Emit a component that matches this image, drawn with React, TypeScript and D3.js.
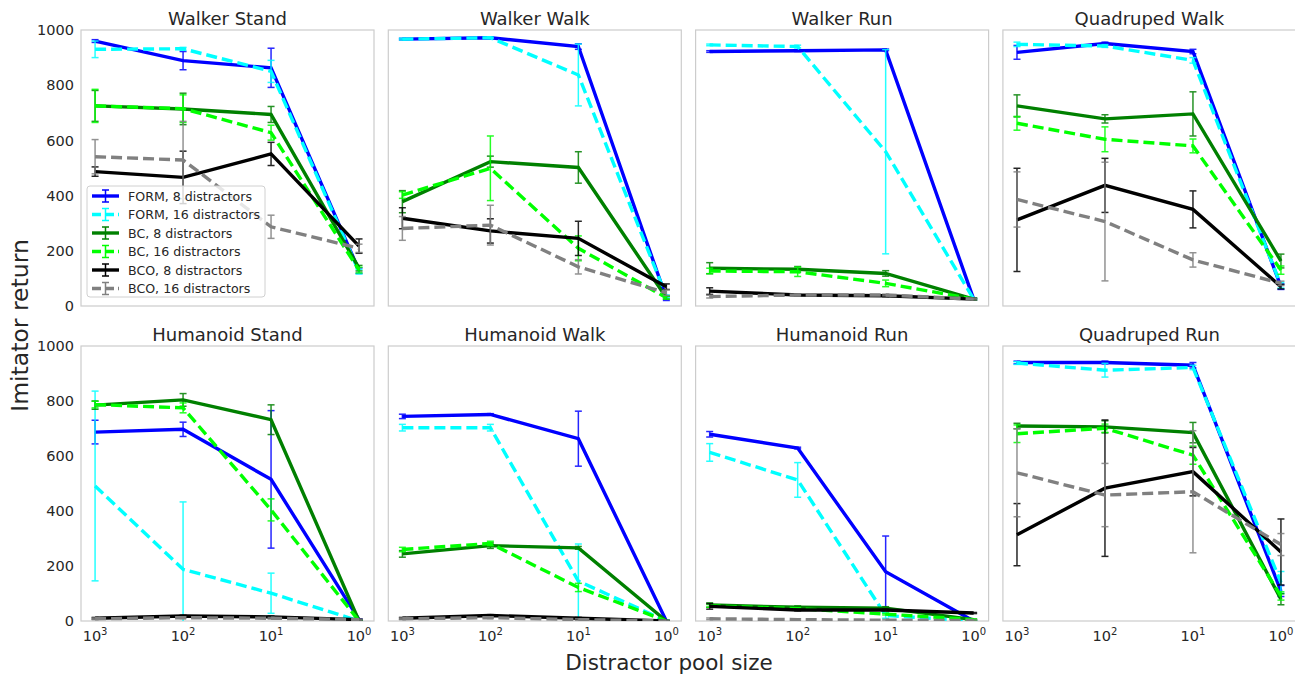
import React, { useEffect, useRef } from "react";
import * as d3 from "d3";

const WIDTH = 1295;
const HEIGHT = 675;

const TASKS = [
  "Walker Stand", "Walker Walk", "Walker Run", "Quadruped Walk",
  "Humanoid Stand", "Humanoid Walk", "Humanoid Run", "Quadruped Run",
];
const POOL_SIZES = [1000, 100, 10, 1];
const X_TICK_EXPONENTS = [3, 2, 1, 0];
const Y_TICKS = [0, 200, 400, 600, 800, 1000];

const SERIES_LABELS = [
  "FORM, 8 distractors", "FORM, 16 distractors",
  "BC, 8 distractors", "BC, 16 distractors",
  "BCO, 8 distractors", "BCO, 16 distractors",
];

// one row per task (same order as TASKS), one value per pool size
const FORM8_MEAN = [
  [960, 889, 863, 128], [967, 972, 940, 28], [922, 925, 928, 25], [919, 951, 922, 70],
  [687, 697, 515, 5], [744, 751, 663, 0], [679, 629, 179, 0], [940, 940, 930, 109],
];
const FORM8_ERR = [
  [5, 33, 71, 10], [3, 3, 10, 8], [3, 3, 3, 3], [25, 5, 8, 10],
  [43, 26, 250, 3], [8, 3, 100, 2], [10, 3, 130, 2], [5, 5, 10, 20],
];
const FORM16_MEAN = [
  [930, 932, 850, 124], [967, 972, 837, 35], [946, 940, 559, 25], [948, 942, 890, 75],
  [491, 188, 101, 0], [703, 703, 145, 0], [613, 513, 20, 0], [938, 912, 922, 140],
];
const FORM16_ERR = [
  [30, 5, 40, 8], [3, 3, 112, 5], [3, 5, 370, 3], [8, 5, 10, 10],
  [345, 245, 73, 3], [12, 12, 135, 2], [32, 63, 10, 2], [5, 25, 8, 40],
];
const BC8_MEAN = [
  [725, 714, 694, 137], [378, 523, 502, 30], [137, 133, 118, 25], [725, 678, 696, 163],
  [785, 804, 732, 0], [244, 274, 266, 0], [58, 50, 47, 5], [709, 706, 685, 79],
];
const BC8_ERR = [
  [56, 57, 29, 10], [40, 20, 57, 5], [20, 10, 10, 3], [40, 15, 80, 25],
  [15, 23, 54, 3], [12, 10, 5, 2], [8, 5, 5, 2], [10, 22, 37, 20],
];
const BC16_MEAN = [
  [725, 715, 628, 130], [402, 499, 209, 30], [127, 124, 82, 25], [662, 604, 580, 130],
  [787, 775, 404, 0], [260, 282, 122, 0], [55, 45, 25, 5], [681, 701, 603, 91],
];
const BC16_ERR = [
  [60, 50, 27, 10], [12, 117, 45, 5], [10, 17, 12, 3], [25, 45, 25, 15],
  [12, 18, 40, 3], [8, 8, 15, 2], [5, 3, 3, 2], [32, 15, 33, 15],
];
const BCO8_MEAN = [
  [487, 466, 551, 217], [318, 272, 245, 70], [54, 40, 37, 25], [312, 437, 350, 70],
  [10, 18, 15, 5], [10, 20, 10, 0], [53, 40, 40, 29], [314, 483, 543, 251],
];
const BCO8_ERR = [
  [17, 95, 42, 26], [38, 44, 62, 10], [12, 3, 3, 3], [187, 98, 67, 8],
  [3, 3, 3, 2], [3, 3, 3, 2], [10, 3, 3, 2], [113, 248, 88, 120],
];
const BCO16_MEAN = [
  [541, 529, 287, 209], [281, 293, 142, 48], [34, 40, 40, 25], [386, 306, 167, 82],
  [8, 12, 10, 5], [8, 12, 5, 0], [8, 5, 3, 2], [539, 458, 470, 278],
];
const BCO16_ERR = [
  [62, 140, 42, 15], [43, 72, 26, 10], [5, 3, 3, 3], [100, 215, 26, 8],
  [3, 3, 3, 2], [3, 3, 3, 2], [3, 3, 3, 2], [160, 115, 222, 40],
];

const MEANS = [FORM8_MEAN, FORM16_MEAN, BC8_MEAN, BC16_MEAN, BCO8_MEAN, BCO16_MEAN];
const ERRS = [FORM8_ERR, FORM16_ERR, BC8_ERR, BC16_ERR, BCO8_ERR, BCO16_ERR];

const SERIES_STYLE = [
  { color: "#0000ff", dashed: false },
  { color: "#00ffff", dashed: true },
  { color: "#008000", dashed: false },
  { color: "#00ff00", dashed: true },
  { color: "#000000", dashed: false },
  { color: "#808080", dashed: true },
];

const FONT = "'DejaVu Sans', sans-serif";
const TEXT_COLOR = "#262626";

const PANEL_LEFT = 81;
const PANEL_STRIDE = 307.3;
const PANEL_W = 293;
const ROW_TOP = [30, 346];
const ROW_H = [276, 275];

export default function App() {
  const svgRef = useRef<SVGSVGElement>(null);

  useEffect(() => {
    const svg = d3.select(svgRef.current);
    svg.selectAll("*").remove();

    const x = d3
      .scaleLog()
      .domain([Math.pow(10, 3.16), Math.pow(10, -0.17)])
      .range([0, PANEL_W]);

    TASKS.forEach((task, p) => {
      const row = Math.floor(p / 4);
      const col = p % 4;
      const h = ROW_H[row];
      const y = d3.scaleLinear().domain([0, 1000]).range([h, 0]);

      const g = svg
        .append("g")
        .attr("transform", `translate(${PANEL_LEFT + col * PANEL_STRIDE},${ROW_TOP[row]})`);

      const clipId = `clip-${p}`;
      g.append("clipPath")
        .attr("id", clipId)
        .append("rect")
        .attr("width", PANEL_W)
        .attr("height", h);

      g.append("rect")
        .attr("width", PANEL_W)
        .attr("height", h)
        .attr("fill", "white")
        .attr("stroke", "#cccccc")
        .attr("stroke-width", 1.2);

      g.append("text")
        .attr("x", PANEL_W / 2)
        .attr("y", -5)
        .attr("text-anchor", "middle")
        .attr("font-family", FONT)
        .attr("font-size", 18)
        .attr("fill", TEXT_COLOR)
        .text(task);

      if (col === 0) {
        g.selectAll(".ytick")
          .data(Y_TICKS)
          .enter()
          .append("text")
          .attr("x", -7)
          .attr("y", (d) => y(d))
          .attr("dy", "0.36em")
          .attr("text-anchor", "end")
          .attr("font-family", FONT)
          .attr("font-size", 14.5)
          .attr("fill", TEXT_COLOR)
          .text((d) => d);
      }

      if (row === 1) {
        const t = g
          .selectAll(".xtick")
          .data(X_TICK_EXPONENTS)
          .enter()
          .append("text")
          .attr("x", (d) => x(Math.pow(10, d)))
          .attr("y", h + 20)
          .attr("text-anchor", "middle")
          .attr("font-family", FONT)
          .attr("font-size", 14.5)
          .attr("fill", TEXT_COLOR);
        t.append("tspan").text("10");
        t.append("tspan")
          .attr("dy", -6)
          .attr("font-size", 10)
          .text((d) => d);
      }

      const plot = g.append("g").attr("clip-path", `url(#${clipId})`);

      const line = d3
        .line<number>()
        .x((_, i) => x(POOL_SIZES[i]))
        .y((d) => y(d));

      SERIES_LABELS.forEach((_, s) => {
        const mean = MEANS[s][p];
        const err = ERRS[s][p];
        const style = SERIES_STYLE[s];
        const sg = plot.append("g");

        sg.append("path")
          .datum(mean)
          .attr("d", line)
          .attr("fill", "none")
          .attr("stroke", style.color)
          .attr("stroke-width", 3.4)
          .attr("stroke-dasharray", style.dashed ? "11,5" : null);

        const eb = sg
          .selectAll(".eb")
          .data(mean.map((m, i) => ({ m, e: err[i], xv: POOL_SIZES[i] })))
          .enter()
          .append("g")
          .attr("stroke", style.color)
          .attr("stroke-width", 1.5)
          .attr("opacity", 0.85);
        eb.append("line")
          .attr("x1", (d) => x(d.xv))
          .attr("x2", (d) => x(d.xv))
          .attr("y1", (d) => y(d.m - d.e))
          .attr("y2", (d) => y(d.m + d.e));
        [-1, 1].forEach((sign) => {
          eb.append("line")
            .attr("x1", (d) => x(d.xv) - 3.5)
            .attr("x2", (d) => x(d.xv) + 3.5)
            .attr("y1", (d) => y(d.m + sign * d.e))
            .attr("y2", (d) => y(d.m + sign * d.e));
        });
      });

      if (p === 0) {
        const lg = g.append("g").attr("transform", "translate(6,156)");
        lg.append("rect")
          .attr("width", 178)
          .attr("height", 111)
          .attr("rx", 3)
          .attr("fill", "white")
          .attr("fill-opacity", 0.8)
          .attr("stroke", "#d0d0d0");
        SERIES_LABELS.forEach((label, s) => {
          const cy = 10 + s * 18.5;
          const style = SERIES_STYLE[s];
          lg.append("line")
            .attr("x1", 5)
            .attr("x2", 32)
            .attr("y1", cy)
            .attr("y2", cy)
            .attr("stroke", style.color)
            .attr("stroke-width", 3.4)
            .attr("stroke-dasharray", style.dashed ? "9,4" : null);
          const e = lg.append("g").attr("stroke", style.color).attr("stroke-width", 1.5);
          e.append("line").attr("x1", 18.5).attr("x2", 18.5).attr("y1", cy - 6).attr("y2", cy + 6);
          e.append("line").attr("x1", 15).attr("x2", 22).attr("y1", cy - 6).attr("y2", cy - 6);
          e.append("line").attr("x1", 15).attr("x2", 22).attr("y1", cy + 6).attr("y2", cy + 6);
          lg.append("text")
            .attr("x", 41)
            .attr("y", cy)
            .attr("dy", "0.36em")
            .attr("font-family", FONT)
            .attr("font-size", 12.6)
            .attr("fill", TEXT_COLOR)
            .text(label);
        });
      }
    });

    svg.append("text")
      .attr("transform", `translate(28,${(ROW_TOP[0] + ROW_TOP[1] + ROW_H[1]) / 2}) rotate(-90)`)
      .attr("text-anchor", "middle")
      .attr("font-family", FONT)
      .attr("font-size", 23.5)
      .attr("fill", TEXT_COLOR)
      .text("Imitator return");

    svg.append("text")
      .attr("x", 669)
      .attr("y", 670)
      .attr("text-anchor", "middle")
      .attr("font-family", FONT)
      .attr("font-size", 21.5)
      .attr("fill", TEXT_COLOR)
      .text("Distractor pool size");
  }, []);

  return (
    <>
      <style>{`body{margin:0}`}</style>
      <svg ref={svgRef} width={WIDTH} height={HEIGHT} style={{ display: "block", background: "white" }} />
    </>
  );
}
